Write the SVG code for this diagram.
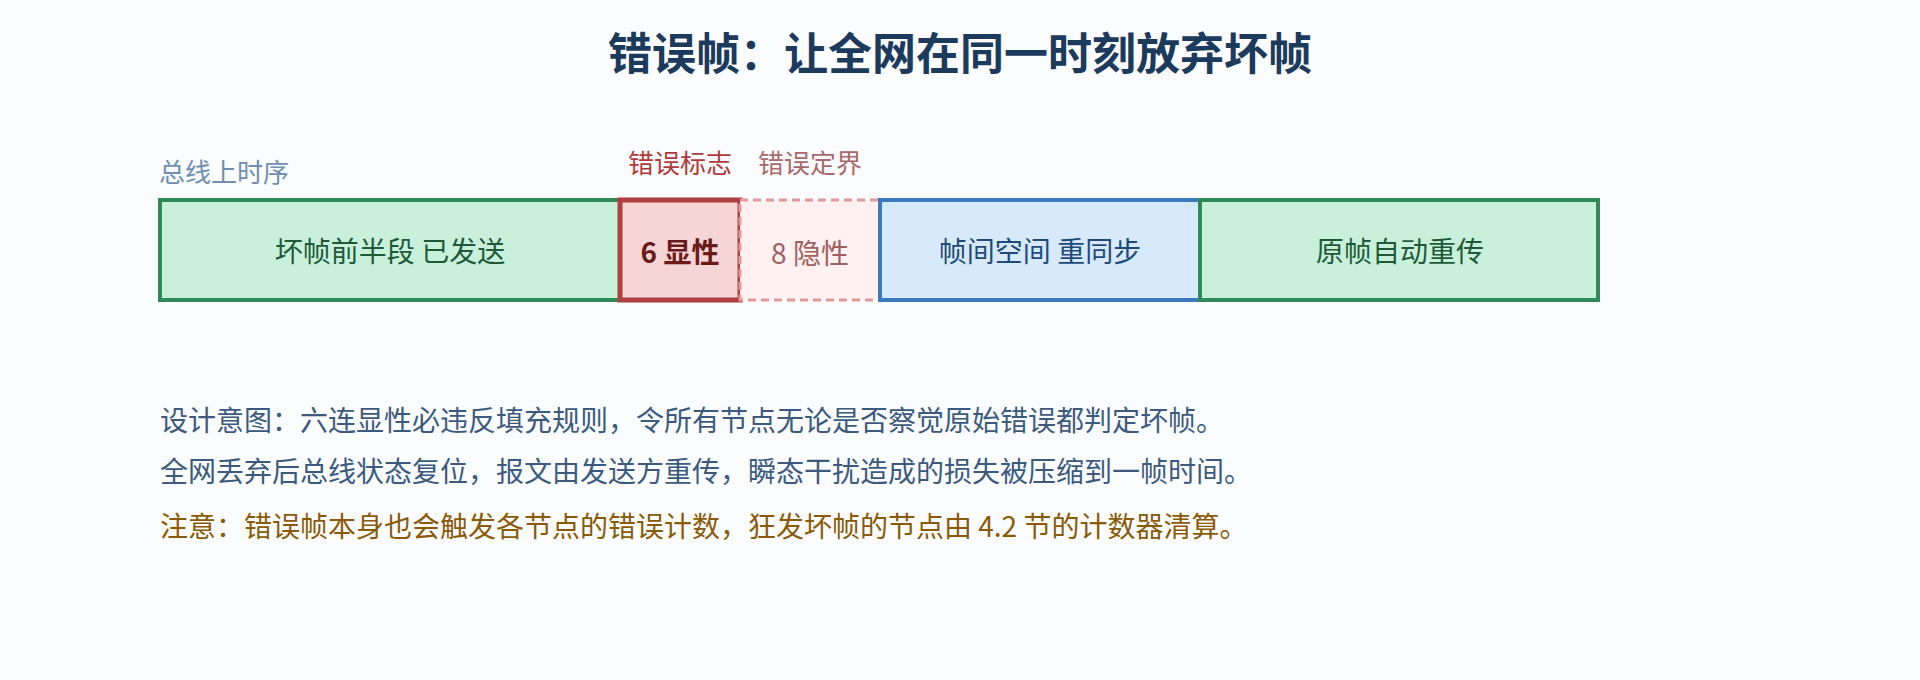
<svg xmlns="http://www.w3.org/2000/svg" width="1920" height="680" viewBox="0 0 1920 680">
  <style>
    text { font-family: "Noto Sans CJK SC", "Noto Sans", sans-serif; dominant-baseline: central; }
    .title { font-size: 44px; font-weight: 700; fill: #1b3a5c; text-anchor: middle; }
    .lab { font-size: 26px; text-anchor: middle; }
    .box { font-size: 28px; text-anchor: middle; }
    .note { font-size: 28px; fill: #3b5a7e; }
    .warn { font-size: 28px; fill: #8a5a06; }
    .green { fill: #c8f0db; stroke: #2e8b57; stroke-width: 4; }
  </style>
  <rect x="0" y="0" width="1920" height="680" fill="#fbfcfe"/>
  <text class="title" x="960" y="51">错误帧：让全网在同一时刻放弃坏帧</text>
  <text x="159" y="170" font-size="26" fill="#6f8fb0">总线上时序</text>
  <text class="lab" x="680" y="161" fill="#b03a3a">错误标志</text>
  <text class="lab" x="810" y="161" fill="#a86a6a">错误定界</text>

  <g id="n1">
    <rect class="green" x="160" y="200" width="460" height="100"/>
    <text class="box" x="390" y="250" fill="#1e5a3a" font-size="28.5">坏帧前半段 已发送</text>
  </g>
  <g id="n2">
    <rect x="620" y="200" width="120" height="100" fill="#f5d5d5" stroke="#b03f3f" stroke-width="5"/>
    <text class="box" x="680" y="251" fill="#6b1a1a" font-weight="700" font-size="26">6 显性</text>
  </g>
  <g id="n3">
    <rect x="740" y="200" width="140" height="100" fill="#fff1f1" stroke="#e09a9a" stroke-width="3" stroke-dasharray="8 5"/>
    <text class="box" x="810" y="252" fill="#a06060" font-size="23">8 隐性</text>
  </g>
  <g id="n4">
    <rect x="880" y="200" width="320" height="100" fill="#d7eafc" stroke="#3a7abd" stroke-width="4"/>
    <text class="box" x="1040" y="250" fill="#1f4a7a" font-size="28.5">帧间空间 重同步</text>
  </g>
  <g id="n5">
    <rect class="green" x="1200" y="200" width="398" height="100"/>
    <text class="box" x="1400" y="250" fill="#1e5a3a" font-size="28.5">原帧自动重传</text>
  </g>
  <g id="connectors"></g>

  <text class="note" x="160" y="419">设计意图：六连显性必违反填充规则，令所有节点无论是否察觉原始错误都判定坏帧。</text>
  <text class="note" x="160" y="470">全网丢弃后总线状态复位，报文由发送方重传，瞬态干扰造成的损失被压缩到一帧时间。</text>
  <text class="warn" x="160" y="525">注意：错误帧本身也会触发各节点的错误计数，狂发坏帧的节点由 4.2 节的计数器清算。</text>
</svg>
